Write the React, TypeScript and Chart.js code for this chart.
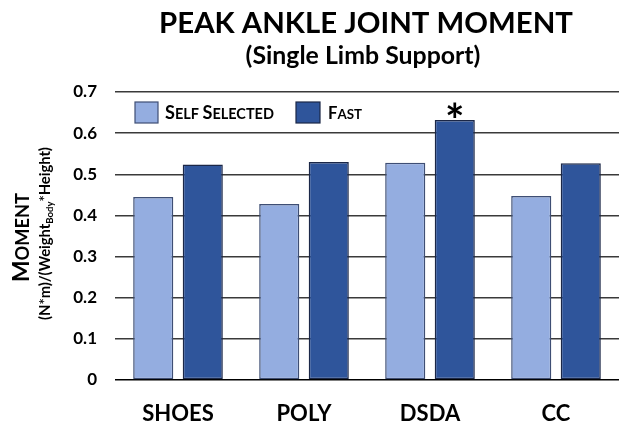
import React, { useEffect, useRef } from "react";
import { Chart, registerables } from "chart.js";

Chart.register(...registerables);

const categories = ["SHOES", "POLY", "DSDA", "CC"];
const selfSelected = [0.445, 0.428, 0.528, 0.447];
const fast = [0.524, 0.53, 0.632, 0.527];
const significant = [false, false, true, false];
const seriesNames = ["Self Selected", "Fast"];
const titleText = "PEAK ANKLE JOINT MOMENT";
const subtitleText = "(Single Limb Support)";

const FONT = "Lato";
const SELF_FILL = "#94ade0";
const SELF_BORDER = "#3e4e74";
const FAST_FILL = "#2f559b";
const FAST_BORDER = "#1b2747";

function fitSize(ctx: CanvasRenderingContext2D, text: string, target: number) {
  ctx.font = `bold 100px ${FONT}`;
  return (100 * target) / ctx.measureText(text).width;
}

type Part = { t: string; big: boolean };
function smallCapsParts(s: string): Part[] {
  const parts: Part[] = [];
  s.split(" ").forEach((w, i) => {
    if (i > 0) parts.push({ t: " ", big: false });
    parts.push({ t: w[0].toUpperCase(), big: true });
    if (w.length > 1) parts.push({ t: w.slice(1).toUpperCase(), big: false });
  });
  return parts;
}
function partsWidth(ctx: CanvasRenderingContext2D, parts: Part[], big: number) {
  let w = 0;
  for (const p of parts) {
    ctx.font = `bold ${p.big ? big : big * 0.8}px ${FONT}`;
    w += ctx.measureText(p.t).width;
  }
  return w;
}
function drawParts(ctx: CanvasRenderingContext2D, parts: Part[], big: number, x: number, y: number) {
  ctx.textAlign = "left";
  ctx.textBaseline = "alphabetic";
  for (const p of parts) {
    ctx.font = `bold ${p.big ? big : big * 0.8}px ${FONT}`;
    ctx.fillText(p.t, x, y);
    x += ctx.measureText(p.t).width;
  }
}
function drawSmallCapsFit(ctx: CanvasRenderingContext2D, s: string, target: number, x: number, y: number) {
  const parts = smallCapsParts(s);
  const big = (100 * target) / partsWidth(ctx, parts, 100);
  drawParts(ctx, parts, big, x, y);
}

const decorPlugin = {
  id: "decor",
  afterDraw(chart: any) {
    const ctx: CanvasRenderingContext2D = chart.ctx;
    ctx.save();
    ctx.fillStyle = "#000";
    // title
    ctx.textAlign = "center";
    ctx.textBaseline = "alphabetic";
    let s = fitSize(ctx, titleText, 414);
    ctx.font = `bold ${s}px ${FONT}`;
    ctx.fillText(titleText, 366, 33);
    s = fitSize(ctx, subtitleText, 235);
    ctx.font = `bold ${s}px ${FONT}`;
    ctx.fillText(subtitleText, 363, 64);

    // legend
    const boxes = [
      { x: 135, w: 23, text: seriesNames[0], tx: 165, tw: 109, fill: SELF_FILL, border: SELF_BORDER },
      { x: 296, w: 24, text: seriesNames[1], tx: 328, tw: 34, fill: FAST_FILL, border: FAST_BORDER },
    ];
    for (const b of boxes) {
      ctx.fillStyle = b.fill;
      ctx.fillRect(b.x, 102, b.w, 21);
      ctx.strokeStyle = b.border;
      ctx.lineWidth = 1.2;
      ctx.strokeRect(b.x, 102, b.w, 21);
      ctx.fillStyle = "#000";
      drawSmallCapsFit(ctx, b.text, b.tw, b.tx, 119);
    }

    // y axis title
    ctx.save();
    ctx.translate(29, 282);
    ctx.rotate(-Math.PI / 2);
    drawSmallCapsFit(ctx, "Moment", 89, 0, 0);
    ctx.restore();

    ctx.save();
    ctx.translate(50, 320);
    ctx.rotate(-Math.PI / 2);
    const a = "(N*m)/(Weight";
    const sub = "Body";
    const c = "*Height)";
    ctx.font = `bold 100px ${FONT}`;
    const wMain = ctx.measureText(a + c).width;
    ctx.font = `bold 65px ${FONT}`;
    const wSub = ctx.measureText(sub).width;
    const fs = (100 * 173) / (wMain + wSub);
    ctx.textAlign = "left";
    ctx.textBaseline = "alphabetic";
    let x = 0;
    ctx.font = `bold ${fs}px ${FONT}`;
    ctx.fillText(a, x, 0);
    x += ctx.measureText(a).width;
    ctx.font = `bold ${fs * 0.65}px ${FONT}`;
    ctx.fillText(sub, x, fs * 0.22);
    x += ctx.measureText(sub).width;
    ctx.font = `bold ${fs}px ${FONT}`;
    ctx.fillText(c, x, 0);
    ctx.restore();

    // significance asterisks
    const meta = chart.getDatasetMeta(1);
    significant.forEach((sig, i) => {
      if (!sig) return;
      const el = meta.data[i];
      ctx.font = `bold 46px ${FONT}`;
      const m = ctx.measureText("*");
      const asc = m.actualBoundingBoxAscent;
      const desc = m.actualBoundingBoxDescent;
      const cy = el.y - 10;
      ctx.textAlign = "center";
      ctx.textBaseline = "alphabetic";
      ctx.fillStyle = "#000";
      ctx.fillText("*", el.x, cy - (desc - asc) / 2);
    });
    ctx.restore();
  },
};

export default function App() {
  const ref = useRef<HTMLCanvasElement | null>(null);
  useEffect(() => {
    document.body.style.margin = "0";
    const canvas = ref.current!;
    const chart = new Chart(canvas, {
      type: "bar",
      data: {
        labels: categories,
        datasets: [
          {
            label: seriesNames[0],
            data: selfSelected,
            backgroundColor: SELF_FILL,
            borderColor: SELF_BORDER,
            borderWidth: 1.5,
            borderSkipped: false,
          },
          {
            label: seriesNames[1],
            data: fast,
            backgroundColor: FAST_FILL,
            borderColor: FAST_BORDER,
            borderWidth: 1.5,
            borderSkipped: false,
          },
        ],
      },
      options: {
        animation: false,
        responsive: false,
        devicePixelRatio: 1,
        categoryPercentage: 0.786,
        barPercentage: 0.81,
        layout: { padding: { top: 92, right: 0, bottom: 0, left: 0 } },
        plugins: {
          legend: { display: false },
          title: { display: false },
          tooltip: { enabled: false },
        },
        scales: {
          x: {
            grid: { display: false },
            border: { display: false },
            ticks: {
              color: "#000",
              font: { family: FONT, size: 22, weight: "bold" },
              padding: 13,
            },
            afterFit: (scale: any) => {
              scale.height = 45;
            },
          },
          y: {
            min: 0,
            max: 0.7,
            border: { display: false },
            grid: {
              drawTicks: false,
              color: (ctx: any) => (ctx.tick && ctx.tick.value === 0 ? "#000" : "#3a3a3a"),
              lineWidth: 1.5,
            },
            ticks: {
              stepSize: 0.1,
              color: "#000",
              padding: 18,
              font: { family: FONT, size: 17, weight: "bold" },
              callback: (v: any) => (Number(v) === 0 ? "0" : Number(v).toFixed(1)),
            },
            afterFit: (scale: any) => {
              scale.width = 115;
            },
          },
        },
      },
      plugins: [decorPlugin],
    });
    return () => chart.destroy();
  }, []);
  return (
    <div style={{ width: 619, height: 425 }}>
      <canvas ref={ref} width={619} height={425} style={{ display: "block" }} />
    </div>
  );
}
